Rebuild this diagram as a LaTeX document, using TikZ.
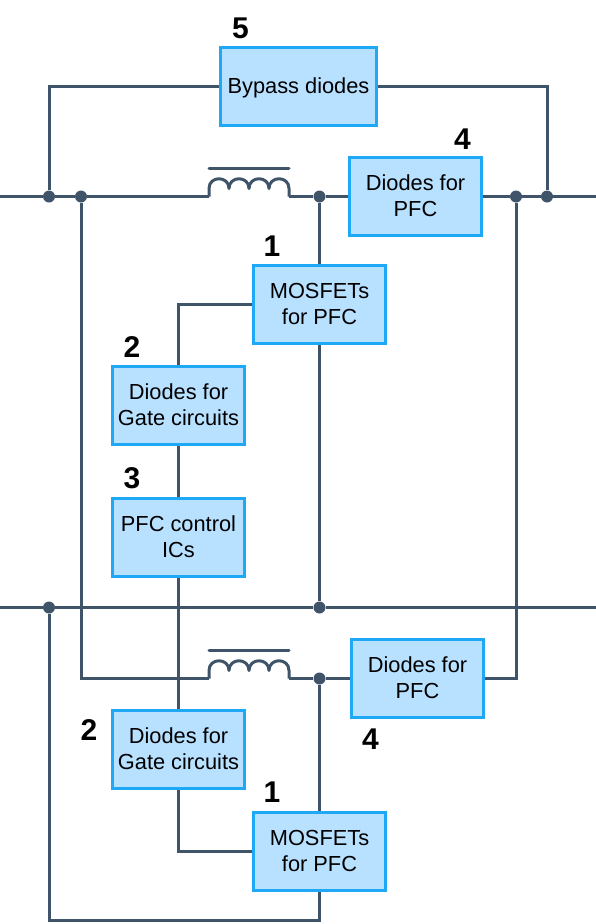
\documentclass[tikz,border=0pt]{standalone}
\usepackage{fontspec}
\setmainfont{Liberation Sans}
\definecolor{wirecol}{HTML}{3F5468}
\definecolor{boxcol}{HTML}{B8E0FF}
\definecolor{edgecol}{HTML}{1FA8F5}
\begin{document}
\begin{tikzpicture}[
    x=1pt, y=-1pt,
    box/.style={draw=edgecol, fill=boxcol, line width=3pt, inner sep=0pt, minimum width=132pt, minimum height=78pt, align=center, text depth=2pt, font=\fontsize{21.8}{26}\selectfont},
    num/.style={inner sep=0pt, font=\fontsize{30}{30}\selectfont\bfseries},
    wire/.style={draw=wirecol, line width=3pt},
    dot/.style={circle, fill=wirecol, inner sep=0pt, minimum size=12pt},
]
\useasboundingbox (0,0) rectangle (596,924);
% Boxes
\node[box, minimum width=156pt] (bypass) at (298.5,86.5) {Bypass diodes};
\node[box] (pfctop) at (415.5,196.5) {Diodes for\\PFC};
\node[box] (mostop) at (319.5,304.5) {MOSFETs\\for PFC};
\node[box] (gatetop) at (178.5,405.5) {Diodes for\\Gate circuits};
\node[box] (ctrl) at (178.5,537.5) {PFC control\\ICs};
\node[box] (pfcbot) at (417.5,678.5) {Diodes for\\PFC};
\node[box] (gatebot) at (178.5,749.5) {Diodes for\\Gate circuits};
\node[box] (mosbot) at (319.5,851.5) {MOSFETs\\for PFC};

% Numbers
\node[num] (n5) at (240.5,28) {5};
\node[num] (n4a) at (462.5,139) {4};
\node[num] (n1a) at (272,246) {1};
\node[num] (n2a) at (132,347) {2};
\node[num] (n3) at (132,478) {3};
\node[num] (n2b) at (89,730) {2};
\node[num] (n4b) at (370.5,739) {4};
\node[num] (n1b) at (272,792) {1};

% Junctions
\foreach \name/\px/\py in {ja/49/196.5, jb/81/196.5, jc/319.5/196.5, jd/516/196.5, je/547/196.5, jf/49/607.5, jg/319.5/607.5, jh/319.5/678.5} {
  \node[dot] (\name) at (\px,\py) {};
}

% Free ends
\coordinate (topl) at (0,196.5);
\coordinate (topr) at (596,196.5);
\coordinate (midl) at (0,607.5);
\coordinate (midr) at (596,607.5);
\coordinate (corner) at (49,920);
\coordinate (inda) at (209,196.5);
\coordinate (indb) at (289,196.5);
\coordinate (indc) at (209,678.5);
\coordinate (indd) at (289,678.5);

% Top rail
\draw[wire] (topl) -- (ja) -- (jb) -- (inda);
\draw[wire] (indb) -- (jc) -- (pfctop);
\draw[wire] (pfctop) -- (jd) -- (je) -- (topr);
\draw[wire] (bypass.west) -| (ja);
\draw[wire] (bypass.east) -| (je);

% Middle rail
\draw[wire] (midl) -- (jf) -- (jg) -- (midr);
\draw[wire] (jc) -- (mostop.north);
\draw[wire] (mostop.south) -- (jg);
\draw[wire] (mostop.west) -| (gatetop.north);
\draw[wire] (gatetop.south) -- (ctrl.north);
\draw[wire] (ctrl.south) -- (gatebot.north);

% Lower part
\draw[wire] (jb) |- (indc);
\draw[wire] (indd) -- (jh) -- (pfcbot.west);
\draw[wire] (pfcbot.east) -| (jd);
\draw[wire] (jh) -- (mosbot.north);
\draw[wire] (gatebot.south) |- (mosbot.west);
\draw[wire] (jf) -- (corner) -| (mosbot.south);

% Inductors
\foreach \ind/\px/\py in {inda/209/196.5, indc/209/678.5} {
  \draw[wire, line join=round] (\ind) -- ++(0,-8)
    .. controls +(0,-13) and +(0,-13) .. ++(20,0)
    .. controls +(0,-13) and +(0,-13) .. ++(20,0)
    .. controls +(0,-13) and +(0,-13) .. ++(20,0)
    .. controls +(0,-13) and +(0,-13) .. ++(20,0) -- ++(0,8);
  \draw[wire, line cap=round] (\px,\py-28) -- (\px+80,\py-28);
}
\end{tikzpicture}
\end{document}
